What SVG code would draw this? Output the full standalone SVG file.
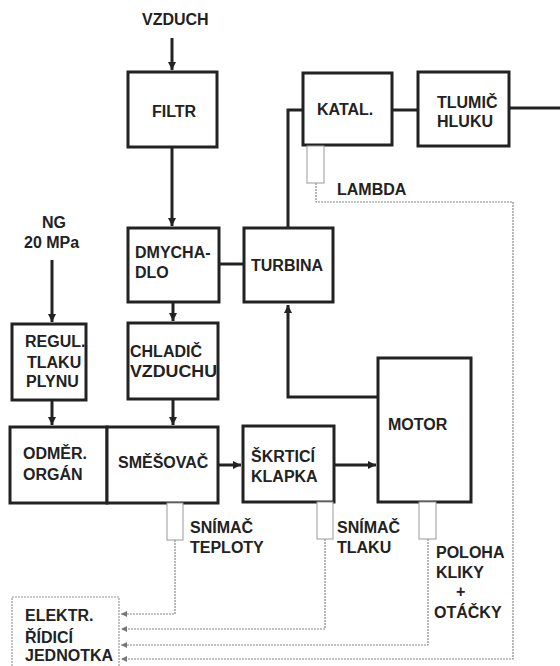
<svg xmlns="http://www.w3.org/2000/svg" width="560" height="666" viewBox="0 0 560 666">
<style>
.box{fill:#fff;stroke:#222;stroke-width:3}
.thin{fill:#fff;stroke:#999;stroke-width:1}
.ebox{fill:#fff;stroke:#999;stroke-width:1.2;stroke-dasharray:2 1}
.ln{fill:none;stroke:#222;stroke-width:3}
.sig{fill:none;stroke:#888;stroke-width:1.2;stroke-dasharray:2 1}
text{font-family:"Liberation Sans",Arial,sans-serif;font-weight:bold;font-size:16px;fill:#222}
</style>
<defs>
<marker id="ah" markerUnits="userSpaceOnUse" markerWidth="10" markerHeight="10" refX="8" refY="4" orient="auto">
<path d="M0,0 L8,4 L0,8 Z" fill="#222"/>
</marker>
<marker id="as" markerUnits="userSpaceOnUse" markerWidth="8" markerHeight="8" refX="6" refY="3" orient="auto">
<path d="M0,0 L6,3 L0,6 Z" fill="#777"/>
</marker>
</defs>
<rect width="560" height="666" fill="#fff"/>

<g id="connectors">
<line class="ln" x1="172" y1="38" x2="172" y2="70" marker-end="url(#ah)"/>
<line class="ln" x1="172" y1="147" x2="172" y2="226" marker-end="url(#ah)"/>
<line class="ln" x1="173" y1="302" x2="173" y2="321" marker-end="url(#ah)"/>
<line class="ln" x1="173" y1="399" x2="173" y2="425" marker-end="url(#ah)"/>
<line class="ln" x1="52" y1="260" x2="52" y2="322" marker-end="url(#ah)"/>
<line class="ln" x1="52" y1="400" x2="52" y2="425" marker-end="url(#ah)"/>
<line class="ln" x1="219" y1="264" x2="244" y2="264"/>
<polyline class="ln" points="303,110 288,110 288,228"/>
<line class="ln" x1="392" y1="110" x2="418" y2="110"/>
<line class="ln" x1="509" y1="108" x2="560" y2="108"/>
<polyline class="ln" points="378,397 288,397 288,305" marker-end="url(#ah)"/>
<line class="ln" x1="218" y1="465" x2="241" y2="465" marker-end="url(#ah)"/>
<line class="ln" x1="334" y1="465" x2="376" y2="465" marker-end="url(#ah)"/>
<polyline class="sig" points="175,540 175,614 121,614" marker-end="url(#as)"/>
<polyline class="sig" points="325,539 325,629 121,629" marker-end="url(#as)"/>
<polyline class="sig" points="428,539 428,645 121,645" marker-end="url(#as)"/>
<polyline class="sig" points="316,183 316,202 513,202 513,659 121,659" marker-end="url(#as)"/>
</g>

<g id="vzduch"><text x="142" y="25">VZDUCH</text></g>
<g id="filtr"><rect class="box" x="128" y="72" width="89" height="75"/><text x="152" y="117">FILTR</text></g>
<g id="dmychadlo"><rect class="box" x="128" y="228" width="91" height="74"/><text x="135" y="258">DMYCHA-</text><text x="135" y="278">DLO</text></g>
<g id="turbina"><rect class="box" x="244" y="228" width="89" height="74"/><text x="251" y="271">TURBINA</text></g>
<g id="katal"><rect class="box" x="303" y="73" width="89" height="72"/><text x="317" y="115">KATAL.</text></g>
<g id="tlumic"><rect class="box" x="418" y="72" width="91" height="74"/><text x="437" y="108">TLUMIČ</text><text x="437" y="127">HLUKU</text></g>
<g id="lambda"><rect class="thin" x="307" y="146" width="17" height="37"/><text x="337" y="195">LAMBDA</text></g>
<g id="ng"><text x="42" y="228">NG</text><text x="24" y="248">20 MPa</text></g>
<g id="regul"><rect class="box" x="12" y="324" width="74" height="76"/><text x="25" y="347">REGUL.</text><text x="27" y="368">TLAKU</text><text x="26" y="387">PLYNU</text></g>
<g id="chladic"><rect class="box" x="128" y="323" width="90" height="76"/><text x="130" y="357">CHLADIČ</text><text x="130" y="377" textLength="87" lengthAdjust="spacingAndGlyphs">VZDUCHU</text></g>
<g id="odmer"><rect class="box" x="10" y="427" width="97" height="76"/><text x="23" y="459">ODMĚR.</text><text x="23" y="480">ORGÁN</text></g>
<g id="smesovac"><rect class="box" x="107" y="427" width="111" height="76"/><text x="118" y="468">SMĚŠOVAČ</text></g>
<g id="skrtici"><rect class="box" x="243" y="426" width="91" height="76"/><text x="251" y="462">ŠKRTICÍ</text><text x="251" y="482">KLAPKA</text></g>
<g id="motor"><rect class="box" x="378" y="358" width="93" height="144"/><text x="388" y="430">MOTOR</text></g>
<g id="snimac-teploty"><rect class="thin" x="167" y="503" width="16" height="37"/><text x="190" y="533">SNÍMAČ</text><text x="190" y="553">TEPLOTY</text></g>
<g id="snimac-tlaku"><rect class="thin" x="317" y="502" width="16" height="37"/><text x="337" y="533">SNÍMAČ</text><text x="337" y="553">TLAKU</text></g>
<g id="poloha"><rect class="thin" x="419" y="502" width="17" height="37"/><text x="436" y="558">POLOHA</text><text x="436" y="578">KLIKY</text><text x="456" y="597">+</text><text x="434" y="618">OTÁČKY</text></g>
<g id="elektr"><rect class="ebox" x="12" y="597" width="107" height="70"/><text x="25" y="621">ELEKTR.</text><text x="25" y="643">ŘÍDICÍ</text><text x="25" y="661">JEDNOTKA</text></g>
</svg>
